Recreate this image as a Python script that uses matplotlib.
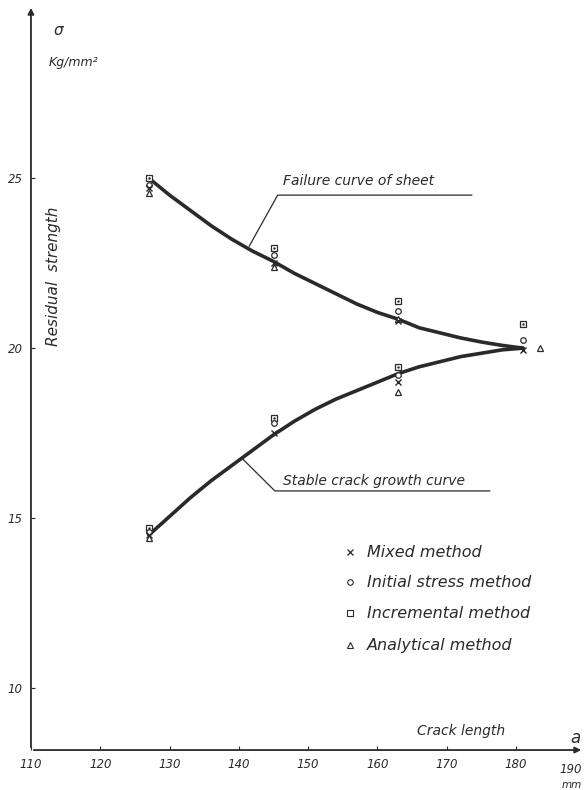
import numpy as np
import matplotlib
matplotlib.use('Agg')
import matplotlib.pyplot as plt

# crack length (mm) and residual strength (kg/mm^2)
curve_x = [127, 130, 133, 136, 139, 142, 145, 148, 151, 154, 157, 160, 163, 166, 169, 172, 175, 178, 181]
failure_y = [25.0, 24.5, 24.05, 23.6, 23.2, 22.85, 22.55, 22.2, 21.9, 21.6, 21.3, 21.05, 20.85,
             20.6, 20.45, 20.3, 20.18, 20.08, 20.0]
stable_y = [14.5, 15.05, 15.6, 16.1, 16.55, 17.0, 17.45, 17.85, 18.2, 18.5, 18.75, 19.0, 19.25,
            19.45, 19.6, 19.75, 19.85, 19.95, 20.0]

pt_x = [127, 145, 163, 181, 127, 145, 163]
mixed_y = [24.7, 22.5, 20.8, 19.95, 14.5, 17.5, 19.0]
initial_y = [24.8, 22.75, 21.1, 20.25, 14.6, 17.8, 19.2]
incr_y = [25.0, 22.95, 21.4, 20.7, 14.72, 17.95, 19.45]
anal_x = [127, 145, 163, 183.5, 127, 163]
anal_y = [24.55, 22.4, 20.85, 20.0, 14.42, 18.7]

x_ticks = [110, 120, 130, 140, 150, 160, 170, 180]
y_ticks = [10, 15, 20, 25]

legend_names = ['Mixed method', 'Initial stress method', 'Incremental method', 'Analytical method']
legend_marks = ['x', 'o', 's', '^']

INK = '#2a2a2a'
FONT = dict(family='DejaVu Sans', style='italic', color=INK)

fig = plt.figure(figsize=(5.84, 7.90), dpi=100)
ax = fig.add_axes([0.053, 0.0506, 0.947, 0.943])
ax.set_xlim(110, 189.8)
ax.set_ylim(8.18, 30.09)
for s in ax.spines.values():
    s.set_visible(False)

# axes drawn as arrows
ax.annotate('', xy=(1.0, 0), xytext=(0, 0), xycoords='axes fraction',
            arrowprops=dict(arrowstyle='-|>', lw=1.3, color=INK, mutation_scale=9))
ax.annotate('', xy=(0, 1.0), xytext=(0, 0), xycoords='axes fraction',
            arrowprops=dict(arrowstyle='-|>', lw=1.3, color=INK, mutation_scale=9))

ax.set_xticks(x_ticks)
ax.set_xticklabels([str(v) for v in x_ticks], fontsize=8.5, **FONT)
ax.set_yticks(y_ticks)
ax.set_yticklabels([str(v) for v in y_ticks], fontsize=8.5, **FONT)
ax.tick_params(axis='x', direction='in', length=3, color=INK, pad=6)
ax.tick_params(axis='y', direction='in', length=3, color=INK, pad=6)
ax.text(187.9, 7.80, '190', fontsize=8.5, ha='center', va='top', clip_on=False, **FONT)

# curves
ax.plot(curve_x, failure_y, color=INK, lw=2.6, solid_capstyle='round')
ax.plot(curve_x, stable_y, color=INK, lw=2.6, solid_capstyle='round')

# method points
kw = dict(ls='none', mfc='white', mec=INK, mew=0.9, zorder=3)
ax.plot(pt_x, incr_y, marker='s', ms=4.5, **kw)
ax.plot(pt_x, incr_y, marker='.', ms=1.5, ls='none', color=INK, zorder=3)
ax.plot(pt_x, initial_y, marker='o', ms=4, **kw)
ax.plot(anal_x, anal_y, marker='^', ms=5, **kw)
ax.plot(pt_x, mixed_y, marker='x', ms=5, ls='none', color=INK, mew=1.0, zorder=4)

# curve labels with leader lines
ax.text(146.3, 24.7, 'Failure curve of sheet', fontsize=10, ha='left', va='bottom', **FONT)
ax.plot([141.5, 145.6, 173.6], [23.0, 24.5, 24.5], color=INK, lw=0.9)
ax.text(146.3, 15.9, 'Stable crack growth curve', fontsize=10, ha='left', va='bottom', **FONT)
ax.plot([140.5, 145.2, 176.2], [16.75, 15.8, 15.8], color=INK, lw=0.9)

# legend
leg_y = [14.0, 13.12, 12.2, 11.26]
for name, m, yy in zip(legend_names, legend_marks, leg_y):
    if m == 'x':
        ax.plot(156.0, yy, marker=m, ms=4.5, color=INK, mew=0.9)
    else:
        ax.plot(156.0, yy, marker=m, ms=4, mfc='white', mec=INK, mew=0.8)
    ax.text(158.5, yy, name, fontsize=11.5, ha='left', va='center', **FONT)

# axis titles
ax.text(113.2, 29.35, 'σ', fontsize=11, ha='left', va='center', **FONT)
ax.text(116.1, 28.4, 'Kg/mm²', fontsize=9, ha='center', va='center', **FONT)
ax.text(113.2, 20.05, 'Residual  strength', fontsize=11, rotation=90, ha='center', va='bottom', **FONT)
ax.text(172.0, 8.75, 'Crack length', fontsize=10, ha='center', va='center', **FONT)
ax.text(188.5, 8.53, 'a', fontsize=12, ha='center', va='center', **FONT)
ax.text(188.0, 7.14, 'mm', fontsize=7.5, ha='center', va='center', clip_on=False, **FONT)

fig.savefig('out.png', dpi=100)
